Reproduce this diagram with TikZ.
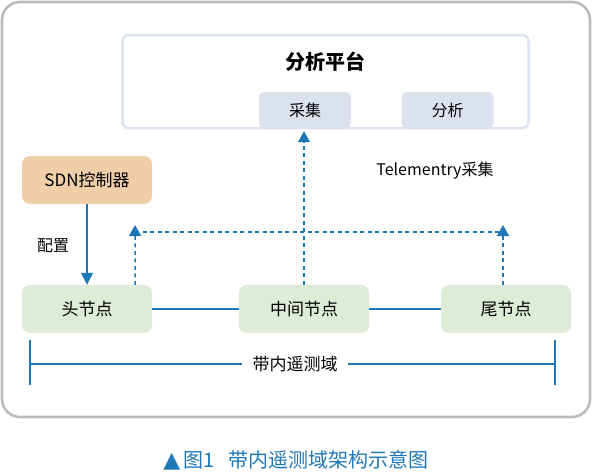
\documentclass[tikz,border=0pt]{standalone}
\usepackage{fontspec}
\setmainfont{Noto Sans CJK SC}
\newfontfamily\symfont{DejaVu Sans}
\usetikzlibrary{positioning, arrows.meta}
\definecolor{framegray}{RGB}{188,188,188}
\definecolor{platborder}{RGB}{220,227,240}
\definecolor{modfill}{RGB}{219,226,238}
\definecolor{ctrlfill}{RGB}{240,206,167}
\definecolor{nodegreen}{RGB}{222,235,214}
\definecolor{linkblue}{RGB}{30,120,184}
\tikzset{
  platbox/.style = {rectangle, draw=platborder, line width=2.5pt, rounded corners=6pt,
                    minimum width=406pt, minimum height=93pt},
  modbox/.style  = {rectangle, fill=modfill, rounded corners=5pt,
                    minimum width=92pt, minimum height=36pt, font=\fontsize{16}{18}\selectfont},
  netbox/.style  = {rectangle, fill=nodegreen, rounded corners=8pt,
                    minimum width=130pt, minimum height=48pt, font=\fontsize{17}{19}\selectfont},
  ctrlbox/.style = {netbox, fill=ctrlfill},
  tellabel/.style = {font=\fontsize{16}{18}\selectfont},
  linkline/.style = {draw=linkblue, line width=1.3pt},
  cfgarrow/.style = {linkline, -{Triangle[width=12pt, length=12pt]}},
  telearrow/.style = {draw=linkblue, line width=1.5pt, dash pattern=on 4pt off 3.5pt,
                      -{Triangle[width=12pt, length=11pt]}},
  teleline/.style = {draw=linkblue, line width=1.5pt, dash pattern=on 4pt off 3.5pt}
}

\begin{document}
\begin{tikzpicture}[x=1pt, y=-1pt]
\useasboundingbox (0,0) rectangle (593,472);
\draw[framegray, line width=2.6pt, rounded corners=18pt] (2,2) rectangle (590,417);

% analysis platform
\node[platbox] (plat) at (325.5,81.5) {};
\node[font=\fontsize{20}{22}\selectfont\bfseries] (plattitle) at (325,62) {分析平台};
\node[modbox] (collect) at (305,110) {采集};
\node[modbox] (analyze) at (447.5,110) {分析};

% controller and nodes
\node[ctrlbox] (sdn)  at (87,180) {SDN控制器};
\node[netbox]  (head) at (87,309) {头节点};
\node[netbox]  (mid)  at (304,309) {中间节点};
\node[netbox]  (tail) at (506,309) {尾节点};

\node[tellabel] (cfg)  at (53,246) {配置};
\node[tellabel] (tele) at (435,171) {Telementry采集};

\draw[cfgarrow] (sdn) -- (head);
\draw[linkline] (head) -- (mid);
\draw[linkline] (mid) -- (tail);

% telemetry collection
\coordinate (hup) at (135,225);
\coordinate (tup) at (503,225);
\draw[telearrow] ([xshift=-17pt]head.north east) -- (hup);
\draw[telearrow] ([xshift=-3pt]tail.north) -- (tup);
\draw[teleline] ([yshift=-7pt]hup) -- ([yshift=-7pt]tup);
\draw[telearrow, shorten >=3pt] (mid.north) -- (mid.north |- collect.south);

% in-band telemetry domain
\coordinate (dl) at (30,364);
\coordinate (dr) at (555,364);
\node[fill=white, inner xsep=10pt, font=\fontsize{17}{19}\selectfont] (dom) at (295,364) {带内遥测域};
\draw[linkline] (dl) -- (dom);
\draw[linkline] (dom) -- (dr);
\draw[linkline] ([yshift=-21pt]dl) -- ([yshift=24pt]dl);
\draw[linkline] ([yshift=-21pt]dr) -- ([yshift=24pt]dr);

% caption
\node[text=linkblue, font=\fontsize{20}{22}\selectfont] (cap) at (296,460)
  {{\symfont\fontsize{22}{22}\selectfont ▲}\,图1\hspace{14pt}带内遥测域架构示意图};
\end{tikzpicture}
\end{document}
